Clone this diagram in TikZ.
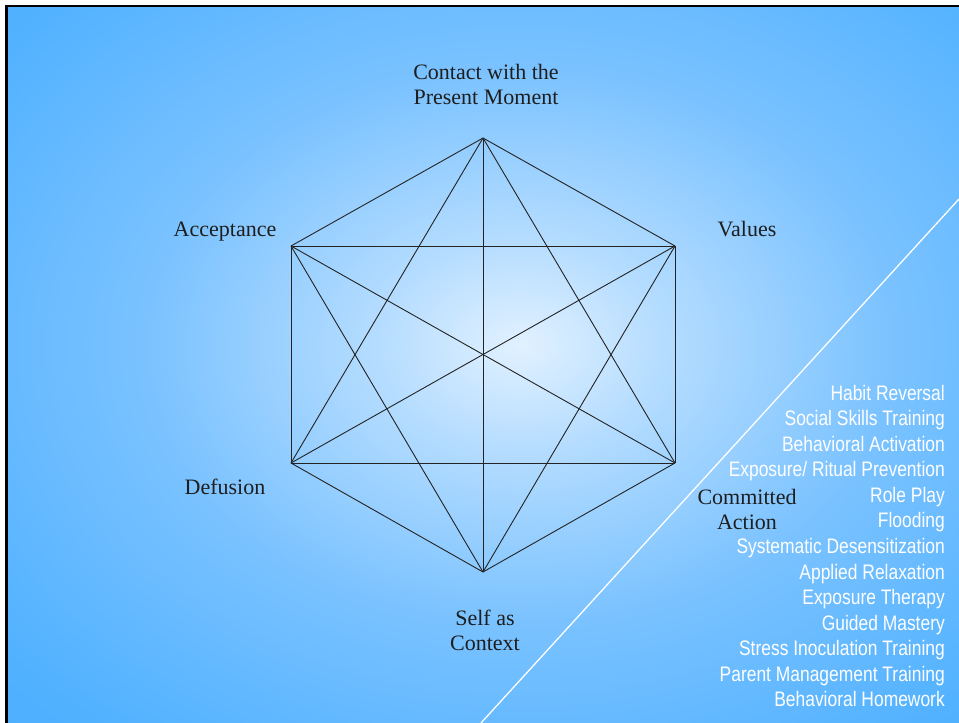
\documentclass[tikz,border=0pt]{standalone}
\usepackage{fontspec}
\setmainfont{Liberation Serif}
\newfontfamily\narrowsans[FakeStretch=0.83]{Liberation Sans}
\definecolor{bgA}{RGB}{225,241,255}
\definecolor{bgB}{RGB}{180,220,255}
\definecolor{bgC}{RGB}{122,194,255}
\definecolor{bgD}{RGB}{80,177,255}
\definecolor{bgE}{RGB}{62,167,255}
\definecolor{labelc}{RGB}{30,30,30}
\definecolor{edgec}{RGB}{35,35,35}
\pgfdeclareradialshading{bgshade}{\pgfpoint{0bp}{0bp}}{color(0bp)=(bgA); color(7bp)=(bgB); color(18bp)=(bgC); color(32bp)=(bgD); color(50bp)=(bgE)}
\tikzset{
  lbl/.style={font=\fontsize{22}{25}\selectfont, text=labelc, align=center, inner sep=0pt, anchor=base},
  side/.style={font=\narrowsans\fontsize{21}{25}\selectfont, text=white, inner sep=0pt, anchor=base east},
  edge/.style={draw=edgec, line width=0.9pt},
}
\begin{document}
\begin{tikzpicture}[x=1pt,y=-1pt]
\useasboundingbox (0,0) rectangle (959,723);
\fill[white] (0,0) rectangle (959,723);
\begin{scope}
  \clip (7,6) rectangle (959,723);
  \shade[shading=bgshade] (0,-40) rectangle (1040,730);
\end{scope}
\draw[black, line width=2.5pt] (6.5,723) -- (6.5,6) -- (959,6);

% hexagon vertices
\coordinate (T)  at (483,138);
\coordinate (UR) at (675,246);
\coordinate (LR) at (675,463);
\coordinate (B)  at (483,572);
\coordinate (LL) at (291,463);
\coordinate (UL) at (291,246);

\foreach \a/\b in {T/UR,UR/LR,LR/B,B/LL,LL/UL,UL/T,
                   T/LR,LR/LL,LL/T,B/UR,UR/UL,UL/B,
                   T/B,UL/LR,UR/LL}
  \draw[edge] (\a) -- (\b);

% labels (anchor base = baseline of last line)
\node[lbl] (contact) at (486,104) {Contact with the\\Present Moment};
\node[lbl] (accept) at (225,236) {Acceptance};
\node[lbl] (values) at (747,236) {Values};
\node[lbl] (defus) at (225,494) {Defusion};
\node[lbl] (commit) at (747,529) {Committed\\Action};
\node[lbl] (self) at (485,650) {Self as\\Context};

% white divider
\coordinate (w1) at (959,199);
\coordinate (w2) at (481,723);
\draw[white, line width=1.3pt] (w1) -- (w2);

% list
\foreach \txt [count=\i from 0] in {Habit Reversal,Social Skills Training,Behavioral Activation,Exposure/ Ritual Prevention,Role Play,Flooding,Systematic Desensitization,Applied Relaxation,Exposure Therapy,Guided Mastery,Stress Inoculation Training,Parent Management Training,Behavioral Homework}
  \node[side] (t\i) at (945,{400+25.58*\i}) {\txt};
\end{tikzpicture}
\end{document}
